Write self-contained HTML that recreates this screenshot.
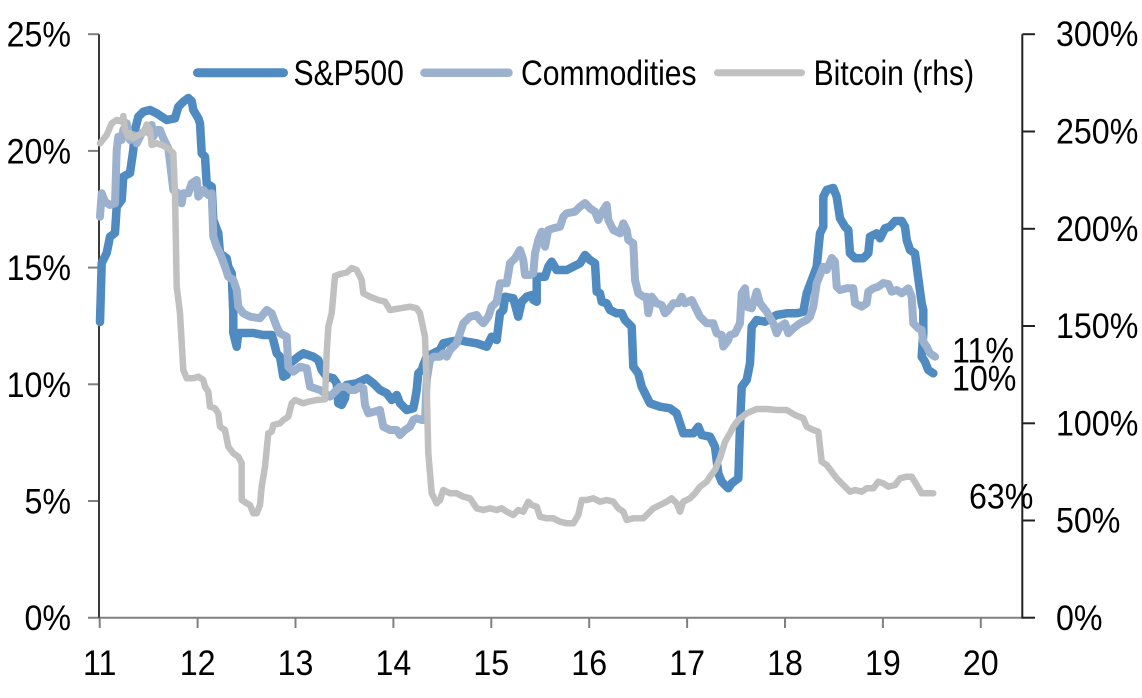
<!DOCTYPE html>
<html><head><meta charset="utf-8"><style>
html,body{margin:0;padding:0;background:#fff;}
svg{display:block;}
text{font-family:"Liberation Sans",Arial,sans-serif;fill:#000;}
</style></head><body>
<svg width="1142" height="698" viewBox="0 0 1142 698" xmlns="http://www.w3.org/2000/svg">
<rect width="1142" height="698" fill="#fff"/>
<!-- axes -->
<g stroke="#808080" stroke-width="2">
<line x1="88" y1="34.2" x2="99" y2="34.2"/>
<line x1="88" y1="150.9" x2="99" y2="150.9"/>
<line x1="88" y1="267.6" x2="99" y2="267.6"/>
<line x1="88" y1="384.3" x2="99" y2="384.3"/>
<line x1="88" y1="501" x2="99" y2="501"/>
<line x1="88" y1="617.7" x2="1023" y2="617.7"/>
<line x1="99.7" y1="617.7" x2="99.7" y2="628"/>
<line x1="197.6" y1="617.7" x2="197.6" y2="628"/>
<line x1="295.5" y1="617.7" x2="295.5" y2="628"/>
<line x1="393.4" y1="617.7" x2="393.4" y2="628"/>
<line x1="491.3" y1="617.7" x2="491.3" y2="628"/>
<line x1="589.2" y1="617.7" x2="589.2" y2="628"/>
<line x1="687.1" y1="617.7" x2="687.1" y2="628"/>
<line x1="785" y1="617.7" x2="785" y2="628"/>
<line x1="882.9" y1="617.7" x2="882.9" y2="628"/>
<line x1="980.8" y1="617.7" x2="980.8" y2="628"/>
</g>
<line x1="99" y1="34.2" x2="99" y2="617.7" stroke="#3a3a3a" stroke-width="2"/>
<g stroke="#222" stroke-width="2">
<line x1="1022.3" y1="34.2" x2="1022.3" y2="618.5"/>
<line x1="1022.3" y1="34.2" x2="1035" y2="34.2"/>
<line x1="1022.3" y1="131.5" x2="1035" y2="131.5"/>
<line x1="1022.3" y1="228.8" x2="1035" y2="228.8"/>
<line x1="1022.3" y1="326" x2="1035" y2="326"/>
<line x1="1022.3" y1="423.3" x2="1035" y2="423.3"/>
<line x1="1022.3" y1="520.5" x2="1035" y2="520.5"/>
<line x1="1022.3" y1="617.7" x2="1035" y2="617.7"/>
</g>
<!-- left labels -->
<g font-size="35" text-anchor="end">
<text transform="translate(71,46.7) scale(0.92,1)">25%</text>
<text transform="translate(71,163.4) scale(0.92,1)">20%</text>
<text transform="translate(71,280.1) scale(0.92,1)">15%</text>
<text transform="translate(71,396.8) scale(0.92,1)">10%</text>
<text transform="translate(71,513.5) scale(0.92,1)">5%</text>
<text transform="translate(71,630.2) scale(0.92,1)">0%</text>
</g>
<!-- right labels -->
<g font-size="35" text-anchor="start">
<text transform="translate(1056,46.2) scale(0.92,1)">300%</text>
<text transform="translate(1056,143.5) scale(0.92,1)">250%</text>
<text transform="translate(1056,240.8) scale(0.92,1)">200%</text>
<text transform="translate(1056,338) scale(0.92,1)">150%</text>
<text transform="translate(1056,435.3) scale(0.92,1)">100%</text>
<text transform="translate(1056,532.5) scale(0.92,1)">50%</text>
<text transform="translate(1056,630.2) scale(0.92,1)">0%</text>
</g>
<!-- x labels -->
<g font-size="35" text-anchor="middle">
<text transform="translate(99.7,675) scale(0.92,1)">11</text>
<text transform="translate(197.6,675) scale(0.92,1)">12</text>
<text transform="translate(295.5,675) scale(0.92,1)">13</text>
<text transform="translate(393.4,675) scale(0.92,1)">14</text>
<text transform="translate(491.3,675) scale(0.92,1)">15</text>
<text transform="translate(589.2,675) scale(0.92,1)">16</text>
<text transform="translate(687.1,675) scale(0.92,1)">17</text>
<text transform="translate(785,675) scale(0.92,1)">18</text>
<text transform="translate(882.9,675) scale(0.92,1)">19</text>
<text transform="translate(980.8,675) scale(0.92,1)">20</text>
</g>
<!-- series -->
<g fill="none" stroke-linejoin="round" stroke-linecap="round">
<polyline stroke="#4f8bc0" stroke-width="8.5" points="100,322 101.7,263 106.7,253 110,236.7 115,233 116.7,206.7 121.7,200 123.3,176.7 130,173 133.3,150 135,130 138.3,116.7 143.3,111.7 150,110 156.7,113.3 166.7,120 175,118.3 178.3,106.7 183.3,101.7 188.3,98 191.7,101 193.3,110 198.3,118.3 200,123.3 201.7,153.3 205,156.7 206.7,183.3 211.7,186.7 213.3,220 218.3,233.3 220,253.3 226.7,258.3 228.3,266.7 231.7,273.3 233.3,313 233.3,333 236.7,346.7 238.3,333 253.3,333 263.3,335 271.7,335 273.3,340 276.7,353.3 280,356.7 283.3,376.7 286.7,375 290,363.3 298.3,356.7 303.3,353.3 313.3,356.7 318.3,360 321.7,370 326.7,376.7 333.3,378.3 336.7,383.3 338.3,403.3 341.7,405 345,398.3 346.7,385 356.7,383.3 366.7,378.3 373.3,383.3 380,390 386.7,393.3 391.7,400 396.7,395 400,403.3 406.7,410 413.3,408.3 415,400 416.7,390 418.3,373.3 421.7,370 423.3,365 426.7,356.7 433.3,353.3 440,350 443.3,343.3 450,341.7 460,340 466.7,341.7 476.7,343.3 486.7,346.7 491.7,336.7 496.7,340 500,313.3 503.3,310 505,296.7 513.3,298.3 518.3,316.7 521.7,301.7 526.7,296.7 531.7,295 533.3,300 536.7,301.7 536.7,276.7 545,276.7 548.3,266.7 551.7,261.7 556.7,270 566.7,270 573.3,266.7 580,263.3 585,255 590,260 595,263.3 596.7,291.7 600,293.3 601.7,301.7 606.7,303.3 610,310 616.7,313.3 621.7,313.3 625,320 631.7,326.7 633.3,366.7 638.3,373.3 641.7,386.7 646.7,396.7 650,403.3 660,406.7 670,408.3 676.7,413.3 683.3,433.3 693.3,433.3 698.3,426.7 701.7,435 710,436.7 715,446.7 718.3,473.3 721.7,481.7 728.3,488.3 731.7,483.3 738.3,478.3 740,426.7 741.7,386.7 746.7,380 750,363.3 751.7,326.7 756.7,320 765,321.7 776.7,315 786.7,313.3 796.7,313.3 803.3,311.7 806.7,293.3 811.7,280 816.7,266.7 820,233.3 823.3,226.7 823.3,196.7 826.7,190 833.3,188 836.7,196.7 840,218.3 845,226.7 848.3,230 850,253.3 855,258.3 863.3,258.3 868.3,253.3 870,236.7 876.7,233.3 880,238.3 885,228.3 890,226.7 895,221 901.7,221 905,226.7 906.7,240 910,250 915,253.3 918.3,278.3 921.7,303.3 923.3,310 923.3,333.3 921.7,356.7 925,361.7 928.3,370 933.3,373.3"/>
<polyline stroke="#9bb1cd" stroke-width="8" points="100,216.7 101.7,193.3 105,201.7 110,205 115,203.3 116.7,150 118.3,136.7 121.7,140 123.3,130 126.7,123.3 130,140 133.3,135 136.7,143.3 141.7,133.3 146.7,130 150,133.3 151.7,125 153.3,136.7 156.7,130 160,130 163.3,138.3 168.3,148.3 173.3,190 178.3,193.3 181.7,203.3 183.3,193.3 188.3,193.3 191.7,183.3 196.7,180 198.3,196.7 203.3,190 208.3,195 211.7,193.3 213.3,236.7 216.7,246.7 220,253.3 225,266.7 228.3,276.7 233.3,280 236.7,290 238.3,306.7 243.3,313.3 250,316.7 260,318.3 266.7,310 271.7,313.3 276.7,326.7 280,333.3 286.7,336.7 288.3,366.7 293.3,371.7 300,366.7 306.7,368.3 310,386.7 320,390 325,393.3 330,396.7 336.7,390 340,386.7 346.7,386.7 350,390 355,390 360,386.7 363.3,388.3 365,405 368.3,413.3 380,410 383.3,426.7 390,430 396.7,430 400,435 405,430 410,426.7 413.3,420 416.7,418.3 421.7,420 425,420 426.7,380 430,360 433.3,356.7 440,356.7 443.3,353.3 446.7,356.7 450,350 456.7,343.3 460,333.3 463.3,323.3 470,316.7 476.7,315 480,320 483.3,323.3 488.3,316.7 491.7,306.7 496.7,301.7 500,283.3 506.7,283.3 510,263.3 515,258.3 520,250 523.3,260 525,275 530,275 533.3,273.3 535,253.3 538.3,240 541.7,231.7 545,246.7 548.3,230 553.3,228.3 560,226.7 563.3,216.7 566.7,213.3 575,211.7 580,206.7 585,203 590,208.3 595,211.7 598.3,220 603.3,210 606.7,205 608.3,220 613.3,230 620,233.3 623.3,223.3 626.7,230 628.3,240 633.3,243.3 635,280 638.3,293.3 643.3,296.7 646.7,296.7 648.3,313.3 651.7,296.7 656.7,303.3 661.7,305 665,313.3 668.3,310 673.3,303.3 678.3,303.3 681.7,296.7 685,303.3 691.7,300 695,306.7 700,316.7 706.7,323.3 713.3,323.3 716.7,333.3 721.7,335 723.3,346.7 728.3,340 730,335 735,333.3 740,323.3 741.7,293.3 745,288.3 746.7,306.7 751.7,308.3 756.7,291.7 760,303.3 766.7,311.7 773.3,323.3 776.7,333.3 780,326.7 785,323.3 788.3,333.3 793.3,328.3 800,323.3 806.7,320 810,316.7 813.3,306.7 816.7,283.3 823.3,266.7 826.7,270 831.7,258 835,261.7 836.7,286.7 840,290 846.7,288.3 853.3,288.3 855,303.3 861.7,306.7 866.7,303.3 868.3,291.7 873.3,288.3 878.3,286.7 883.3,283 888.3,284 891.7,291.7 896.7,290 901.7,293.3 908.3,288.3 911.7,296.7 913.3,323.3 918.3,328.3 921.7,330 923.3,341.7 926.7,346.7 930,353.3 935,356.7"/>
<polyline stroke="#c0c0c0" stroke-width="6.5" points="100,143.3 106.7,135 111.7,123.3 116.7,120 121.7,121.7 123.3,116 125,130 128.3,136.7 130,133.3 133.3,138.3 138.3,135 143.3,133.3 146.7,124.5 150,130 151.7,145 156.7,143.3 161.7,145 168.3,148.3 173.3,153.3 175,193.3 176.7,286.7 180,313.3 183.3,370 186.7,378.3 193.3,378.3 198.3,376.7 203.3,380 205,386.7 208.3,391.7 210,406.7 215,408.3 218.3,413.3 220,426.7 225,430 228.3,446.7 233.3,453.3 238.3,456.7 241.7,463.3 241.7,500 246.7,503.3 250,505 253.3,513.3 256.7,513.3 260,505 261.7,486.7 265,466.7 268.3,433.3 271.7,431.7 273.3,425 280,423.3 283.3,420 288.3,416.7 291.7,403.3 295,400 303.3,403.3 308.3,401.7 316.7,400 325,399.3 326.7,353.3 328.3,326.7 331.7,313.3 335,276 340,274 346.7,272.5 351.7,268 356.7,270 361.7,280 363.3,293.3 370,296.7 378.3,300 385,301.7 390,310 400,308.3 410,306.7 416.7,308.3 420,313.3 425,336.7 426.7,386.7 428.3,453.3 431.7,493.3 436.7,503.3 440,500 443.3,490 450,493.3 456.7,493.3 463.3,496.7 470,498.3 476.7,508.3 483.3,510 490,508.3 496.7,510 501.7,508.3 506.7,511.7 513.3,515 518.3,510 523.3,511.7 528.3,501.7 531.7,505 536.7,506.7 540,516.7 546.7,518.3 553.3,518.3 560,521.7 566.7,523.3 573.3,523.3 578.3,515 581.7,500 586.7,500 593.3,498.3 600,501.7 606.7,500 613.3,501.7 618.3,508.3 623.3,511.7 626.7,520 633.3,518.3 643.3,518.3 648.3,513.3 653.3,508.3 660,505 666.7,501.7 671.7,498.3 676.7,503.3 680,511.7 683.3,501.7 690,498.3 695,493.3 700,486.7 706.7,481.7 710,476.7 715,470 720,458 725,442 730,433.3 733.3,426.7 738.3,420 746.7,413.3 756.7,409 766.7,409 776.7,410 786.7,410 795,415 803.3,418.3 806.7,426.7 813.3,430 818.3,431.7 821.7,461.7 826.7,465 831.7,471.7 836.7,478.3 843.3,485 850,491.7 855,490 861.7,491.7 866.7,488.3 873.3,488.3 878.3,481.7 883.3,483.3 888.3,486.7 895,485 900,478.3 906.7,476.7 911.7,476.7 916.7,485 921.7,493.3 926.7,493.3 933.3,493.3"/>
</g>
<!-- end labels -->
<g font-size="35">
<text transform="translate(952,362.3) scale(0.92,1)">11%</text>
<text transform="translate(952,390.7) scale(0.92,1)">10%</text>
<text transform="translate(969,508.3) scale(0.92,1)">63%</text>
</g>
<!-- legend -->
<g stroke-linecap="round">
<line x1="197.5" y1="72.7" x2="283.5" y2="72.7" stroke="#4f8bc0" stroke-width="9"/>
<line x1="424.5" y1="72.7" x2="508.5" y2="72.7" stroke="#9bb1cd" stroke-width="8.5"/>
<line x1="717.5" y1="72.7" x2="801.5" y2="72.7" stroke="#c0c0c0" stroke-width="7"/>
</g>
<g font-size="35">
<text transform="translate(293.5,85) scale(0.86,1)">S&amp;P500</text>
<text transform="translate(521,85) scale(0.86,1)">Commodities</text>
<text transform="translate(813.6,85) scale(0.86,1)">Bitcoin (rhs)</text>
</g>
</svg>
</body></html>
